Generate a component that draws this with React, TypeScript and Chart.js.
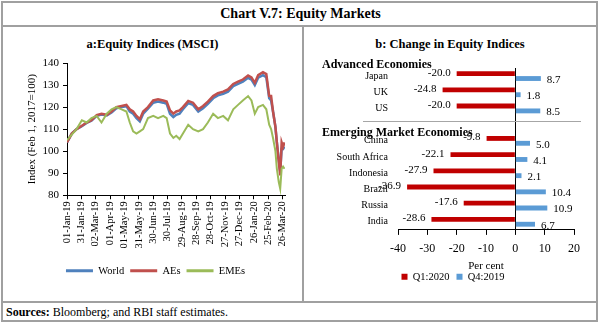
import React, { useEffect, useRef } from "react";
import { Chart, registerables } from "chart.js";
Chart.register(...registerables);

// ---------- Panel a: Equity indices (MSCI) ----------
// day offsets from 01-Jan-2019
const DAYS = [0, 10, 20, 31, 41, 51, 62, 72, 83, 93, 103, 114, 124, 131, 138, 145, 152, 159, 169, 180, 190, 201, 208, 215, 222, 228, 235, 242, 253, 263, 274, 284, 294, 305, 315, 326, 336, 347, 357, 367, 378, 385, 392, 399, 409, 416, 422, 426, 430, 435, 438, 442, 445, 448, 451, 454];
const WORLD = [104, 108, 110, 111.3, 112.8, 113.8, 116, 116.6, 116.2, 117.6, 119.5, 120, 120.4, 118, 117, 115, 113.5, 117, 119.3, 122, 122.5, 122, 121.5, 117, 115.5, 116.5, 117, 119, 121.8, 121, 118, 119.5, 121.5, 124, 125.3, 126, 127, 129.5, 130.5, 131.5, 133.3, 132.5, 130, 133.3, 134.5, 133.5, 124, 123, 118, 111, 104, 96, 91, 101, 101, 102];
const AES = [104, 108, 110, 111.5, 113, 114, 116.4, 117, 116.5, 118, 120, 120.5, 121, 119, 118, 116, 114.5, 118, 120, 123, 123.5, 123, 122.5, 118.5, 117, 118, 118.5, 120, 122.8, 122, 119, 120.5, 122.5, 125, 126.3, 127, 128, 130.5, 131.5, 132.5, 134.3, 133.5, 131, 134.5, 135.8, 135, 125, 125, 118, 111, 104, 95, 89, 104, 102, 104];
const EMES = [105, 107.5, 110, 114, 113, 115, 116, 113, 117, 119, 120, 119, 118, 113, 109, 108, 109, 110, 115, 116, 115, 116, 115, 108, 106, 107, 105.5, 108, 112, 110, 109, 110, 113, 117, 115, 116, 114, 119, 121, 123, 125, 123, 117, 120, 121, 119, 112, 110, 106, 100, 92, 86, 83, 92, 93, 92];
const DATE_TICKS = ["01-Jan-19", "31-Jan-19", "02-Mar-19", "01-Apr-19", "01-May-19", "31-May-19", "30-Jun-19", "30-Jul-19", "29-Aug-19", "28-Sep-19", "28-Oct-19", "27-Nov-19", "27-Dec-19", "26-Jan-20", "25-Feb-20", "26-Mar-20"];
const SERIES_NAMES = ["World", "AEs", "EMEs"];

// ---------- Panel b: Change in equity indices ----------
const COUNTRIES = ["Japan", "UK", "US", "", "China", "South Africa", "Indonesia", "Brazil", "Russia", "India"];
const Q1_2020 = [-20.0, -24.8, -20.0, null, -9.8, -22.1, -27.9, -36.9, -17.6, -28.6];
const Q4_2019 = [8.7, 1.8, 8.5, null, 5.0, 4.1, 2.1, 10.4, 10.9, 6.7];
const BAR_NAMES = ["Q1:2020", "Q4:2019"];
const GROUP_HEADERS = ["Advanced Economies", "Emerging Market Economies"];

const SERIF = '"Liberation Serif", "Times New Roman", serif';

const barLabels = {
  id: "barLabels",
  afterDatasetsDraw(chart: any) {
    const ctx = chart.ctx;
    ctx.save();
    ctx.font = `11px ${SERIF}`;
    ctx.fillStyle = "#000";
    ctx.textBaseline = "middle";
    chart.data.datasets.forEach((ds: any, di: number) => {
      const meta = chart.getDatasetMeta(di);
      meta.data.forEach((el: any, i: number) => {
        const v = ds.data[i];
        if (v == null) return;
        const txt = v.toFixed(1);
        if (v < 0) {
          ctx.textAlign = "right";
          ctx.fillText(txt, el.x - 6, el.y - 1);
        } else {
          ctx.textAlign = "left";
          ctx.fillText(txt, el.x + 6, el.y + 1.5);
        }
      });
    });
    ctx.restore();
  },
};

const groupHeaders = {
  id: "groupHeaders",
  afterDraw(chart: any) {
    const ctx = chart.ctx;
    const y = chart.scales.y;
    const area = chart.chartArea;
    const blank = y.getPixelForValue(3);
    ctx.save();
    ctx.strokeStyle = "#a6a6a6";
    ctx.lineWidth = 1;
    ctx.beginPath();
    ctx.moveTo(area.left - 35, Math.round(blank - 4) + 0.5);
    ctx.lineTo(area.right + 7, Math.round(blank - 4) + 0.5);
    ctx.stroke();
    ctx.font = `bold 12px ${SERIF}`;
    ctx.fillStyle = "#000";
    ctx.textAlign = "left";
    ctx.textBaseline = "middle";
    ctx.fillText(GROUP_HEADERS[0], area.left - 76, y.getPixelForValue(0) - 11);
    ctx.fillText(GROUP_HEADERS[1], area.left - 76, blank + 8);
    ctx.restore();
  },
};

function LineChart() {
  const ref = useRef<HTMLCanvasElement>(null);
  useEffect(() => {
    const colors = ["#4F81BD", "#C0504D", "#9BBB59"];
    const series = [WORLD, AES, EMES];
    const widths = [2.5, 2.5, 2];
    const orders = [2, 1, 0];
    const chart = new Chart(ref.current as HTMLCanvasElement, {
      type: "line",
      data: {
        datasets: series.map((s, k) => ({
          label: SERIES_NAMES[k],
          data: DAYS.map((d, i) => ({ x: d, y: s[i] })),
          borderColor: colors[k],
          backgroundColor: colors[k],
          borderWidth: widths[k],
          pointRadius: 0,
          tension: 0,
          order: orders[k],
        })),
      },
      options: {
        animation: false,
        responsive: false,
        layout: { padding: { top: 11, right: 16, left: 23, bottom: 14 } },
        plugins: {
          tooltip: { enabled: false },
          legend: {
            position: "bottom",
            labels: {
              font: { family: SERIF, size: 10.5 },
              color: "#000",
              boxWidth: 27,
              boxHeight: 3,
              padding: 6,
              sort: (a: any, b: any) => a.datasetIndex - b.datasetIndex,
              generateLabels: (c: any) =>
                Chart.defaults.plugins.legend.labels
                  .generateLabels(c)
                  .map((l: any) => ({ ...l, lineWidth: 0, fillStyle: l.strokeStyle })),
            },
          },
        },
        scales: {
          x: {
            type: "linear",
            min: 0,
            max: 455,
            afterFit: (s: any) => {
              s.height = s.height + 9;
            },
            ticks: {
              stepSize: 30,
              includeBounds: false,
              autoSkip: false,
              minRotation: 90,
              maxRotation: 90,
              padding: 2,
              color: "#000",
              font: { family: SERIF, size: 10.5 },
              callback: (v: any) => DATE_TICKS[Math.round(v / 30)] ?? "",
            },
            grid: { drawOnChartArea: false, color: "#000", tickLength: 4 },
            border: { color: "#000", width: 1 },
          },
          y: {
            min: 80,
            max: 140,
            afterFit: (s: any) => {
              s.width = 41;
            },
            ticks: {
              stepSize: 10,
              color: "#000",
              padding: 4,
              font: { family: SERIF, size: 11 },
            },
            grid: { drawOnChartArea: false, color: "#000", tickLength: 4 },
            border: { color: "#000", width: 1 },
            title: {
              display: true,
              text: "Index (Feb 1, 2017=100)",
              color: "#000",
              font: { family: SERIF, size: 11 },
              padding: { top: 0, bottom: 4 },
            },
          },
        },
      } as any,
    });
    return () => chart.destroy();
  }, []);
  return <canvas ref={ref} width={298} height={248} style={{ position: "absolute", left: 3, top: 52, width: 298, height: 248 }} />;
}

function BarChart() {
  const ref = useRef<HTMLCanvasElement>(null);
  useEffect(() => {
    const chart = new Chart(ref.current as HTMLCanvasElement, {
      type: "bar",
      data: {
        labels: COUNTRIES,
        datasets: [
          { label: BAR_NAMES[0], data: Q1_2020, backgroundColor: "#C00000", categoryPercentage: 0.6, barPercentage: 1 },
          { label: BAR_NAMES[1], data: Q4_2019, backgroundColor: "#5B9BD5", categoryPercentage: 0.6, barPercentage: 1 },
        ],
      },
      plugins: [barLabels, groupHeaders],
      options: {
        indexAxis: "y",
        animation: false,
        responsive: false,
        layout: { padding: { top: 16, right: 22, left: 28, bottom: 8 } },
        plugins: {
          tooltip: { enabled: false },
          legend: {
            position: "bottom",
            labels: {
              font: { family: SERIF, size: 10.5 },
              color: "#000",
              boxWidth: 6,
              boxHeight: 6,
              padding: 7,
            },
          },
        },
        scales: {
          x: {
            type: "linear",
            min: -40,
            max: 20,
            ticks: {
              stepSize: 10,
              color: "#000",
              padding: 7,
              font: { family: SERIF, size: 12 },
            },
            grid: {
              drawOnChartArea: true,
              color: (c: any) => (c.tick && c.tick.value === 0 ? "#000" : "rgba(0,0,0,0)"),
              tickColor: "#000",
              tickLength: 5,
            },
            border: { color: "#000", width: 1 },
            title: {
              display: true,
              text: "Per cent",
              color: "#000",
              font: { family: SERIF, size: 11 },
              padding: { top: -4, bottom: -8 },
            },
          },
          y: {
            afterFit: (s: any) => {
              s.width = 66;
            },
            ticks: {
              color: "#000",
              padding: 2,
              font: { family: SERIF, size: 10 },
            },
            grid: { display: false },
            border: { display: false },
          },
        },
      } as any,
    });
    return () => chart.destroy();
  }, []);
  return <canvas ref={ref} width={292} height={248} style={{ position: "absolute", left: 304, top: 52, width: 292, height: 248 }} />;
}

const line = (l: number, t: number, w: number, h: number) => (
  <div style={{ position: "absolute", left: l, top: t, width: w, height: h, background: "#a0a0a0" }} />
);

export default function App() {
  return (
    <div style={{ position: "fixed", left: 0, top: 0, width: 601, height: 325, background: "#fff", fontFamily: SERIF, color: "#000" }}>
      {line(1, 1, 597, 2)}
      {line(1, 320, 597, 2)}
      {line(1, 1, 2, 321)}
      {line(596, 1, 2, 321)}
      {line(1, 25, 597, 2)}
      {line(1, 301, 597, 2)}
      {line(302, 25, 2, 277)}
      <div style={{ position: "absolute", left: 0, top: 4, width: 601, textAlign: "center", fontWeight: "bold", fontSize: 14, lineHeight: "20px" }}>
        Chart V.7: Equity Markets
      </div>
      <div style={{ position: "absolute", left: 3, top: 35, width: 299, textAlign: "center", fontWeight: "bold", fontSize: 12.5, lineHeight: "18px" }}>
        a:Equity Indices (MSCI)
      </div>
      <div style={{ position: "absolute", left: 304, top: 35, width: 292, textAlign: "center", fontWeight: "bold", fontSize: 12.5, lineHeight: "18px" }}>
        b: Change in Equity Indices
      </div>
      <LineChart />
      <BarChart />
      <div style={{ position: "absolute", left: 6, top: 304, fontSize: 12, lineHeight: "16px", whiteSpace: "nowrap" }}>
        <b>Sources:</b> Bloomberg; and RBI staff estimates.
      </div>
    </div>
  );
}
